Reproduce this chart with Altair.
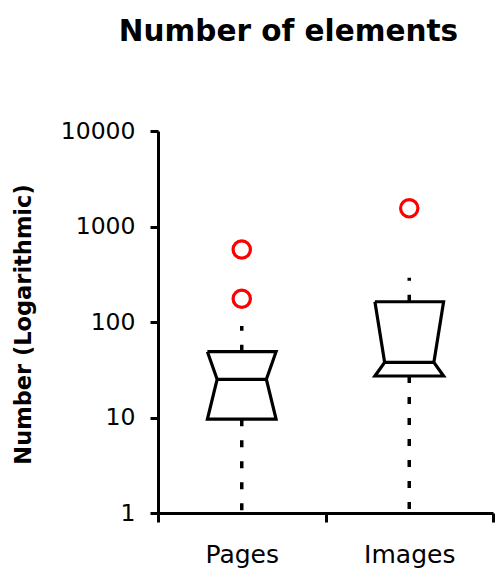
import altair as alt
import pandas as pd

# ---- data ----
categories = ["Pages", "Images"]
positions = [0.5, 1.5]
q1 = [9.6, 27.2]
median = [25.1, 37.8]
q3 = [48.9, 163.0]
whisker_low = [1, 1]
whisker_high = [91, 291]
outlier_cat = ["Pages", "Pages", "Images"]
outlier_val = [575, 175, 1549]
y_ticks = [1, 10, 100, 1000, 10000]

FONT = "DejaVu Sans"
HW = 0.205   # half box width (x units)
NW = 0.147   # half width at the notch

pos = dict(zip(categories, positions))

poly_rows = []
for c, p, a, m, b in zip(categories, positions, q1, median, q3):
    pts = [(p - HW, b), (p - NW, m), (p - HW, a), (p + HW, a),
           (p + NW, m), (p + HW, b), (p - HW, b)]
    for i, (x, y) in enumerate(pts):
        poly_rows.append({"cat": c, "i": i, "x": x, "y": y})
poly_df = pd.DataFrame(poly_rows)

med_df = pd.DataFrame({"cat": categories,
                       "x": [p - NW for p in positions],
                       "x2": [p + NW for p in positions],
                       "y": median})

wh_df = pd.DataFrame({"cat": categories * 2,
                      "x": positions * 2,
                      "y": q1 + q3,
                      "y2": whisker_low + whisker_high})

out_df = pd.DataFrame({"cat": outlier_cat,
                       "x": [pos[c] for c in outlier_cat],
                       "y": outlier_val})

label_expr = " : ".join(
    f"datum.value == {p} ? '{c}'" for c, p in zip(categories, positions)
) + " : ''"

x_enc = alt.X(
    "x:Q",
    scale=alt.Scale(domain=[0, 2], nice=False, zero=False),
    axis=alt.Axis(
        values=[0, 0.5, 1, 1.5, 2],
        labelExpr=label_expr,
        tickOpacity={"condition": {"test": "datum.value % 1 === 0", "value": 1}, "value": 0},
        title=None, grid=False, domainColor="black", domainWidth=3,
        tickColor="black", tickWidth=3, tickSize=9,
        labelFont=FONT, labelFontSize=25, labelColor="black",
        labelPadding=20, labelOverlap=False, labelFlush=False,
    ),
)
y_enc = alt.Y(
    "y:Q",
    scale=alt.Scale(type="log", domain=[1, 10000], nice=False),
    axis=alt.Axis(
        values=y_ticks, format="d", grid=False,
        title="Number (Logarithmic)", titleFont=FONT, titleFontSize=22.5,
        titleFontWeight="bold", titleColor="black", titleAngle=-90,
        titleX=-128, titleY=193, titleAlign="center", titleBaseline="alphabetic",
        domainColor="black", domainWidth=3, tickColor="black", tickWidth=3,
        tickSize=8, labelFont=FONT, labelFontSize=23.5, labelColor="black",
        labelPadding=15, labelOverlap=False, labelFlush=False,
    ),
)

box = alt.Chart(poly_df).mark_line(
    color="black", strokeWidth=3.2, strokeJoin="miter"
).encode(x=x_enc, y=y_enc, detail="cat:N", order="i:Q")

med = alt.Chart(med_df).mark_rule(color="black", strokeWidth=3.2).encode(
    x=x_enc, x2="x2:Q", y=y_enc)

wh = alt.Chart(wh_df).mark_rule(
    color="black", strokeWidth=3.5, strokeDash=[7, 14]
).encode(x=x_enc, y=y_enc, y2="y2:Q")

outl = alt.Chart(out_df).mark_point(
    shape="circle", filled=False, color="#ff0000", size=300, strokeWidth=3.2, opacity=1
).encode(x=x_enc, y=y_enc)

chart = alt.layer(wh, box, med, outl).properties(
    width=335, height=382,
    autosize=alt.AutoSizeParams(type="none"),
    padding={"left": 158, "top": 131, "right": 4, "bottom": 57},
    title=alt.TitleParams(
        "Number of elements", font=FONT, fontSize=29.5, fontWeight="bold",
        color="black", anchor="middle", frame="group", dx=-37, offset=49,
        baseline="alphabetic",
    ),
).configure(background="white").configure_view(stroke=None)

chart.save("out.html", embed_options={"renderer": "svg", "actions": False})
